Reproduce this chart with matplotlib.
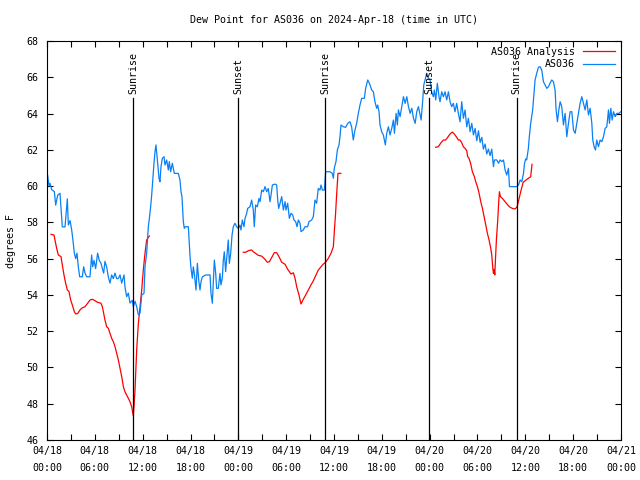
import numpy as np
import matplotlib
matplotlib.use("Agg")
import matplotlib.pyplot as plt

# Zeit in Stunden ab 04/18 00:00 UTC
station_h = [0.08, 0.25, 0.38, 0.59, 0.92, 1.09, 1.34, 1.63, 1.84, 1.92, 2.26, 2.47, 2.55, 2.68, 2.89,
             3.09, 3.26, 3.43, 3.6, 3.76, 3.93, 4.1, 4.43, 4.6, 4.77, 4.98, 5.39, 5.6, 5.73, 5.9,
             6.1, 6.35, 6.56, 6.77, 6.94, 7.11, 7.27, 7.48, 7.69, 7.9, 8.11, 8.32, 8.53, 8.74, 8.95,
             9.16, 9.37, 9.66, 9.78, 9.99, 10.2, 10.41, 10.7, 10.83, 11.04, 11.25, 11.46, 11.67, 11.88,
             12.17, 12.29, 12.5, 12.71, 12.84, 13.0, 13.13, 13.25, 13.42, 13.55, 13.67, 13.76, 13.88,
             14.05, 14.17, 14.3, 14.47, 14.68, 14.8, 15.01, 15.22, 15.34, 15.51, 15.72, 15.97, 16.47,
             16.68, 16.81, 16.93, 17.1, 17.22, 17.35, 17.73, 17.93, 18.06, 18.23, 18.35, 18.48, 18.69,
             18.86, 19.03, 19.19, 19.32, 19.49, 19.9, 20.45, 20.57, 20.74, 20.86, 20.99, 21.16, 21.28,
             21.49, 21.7, 21.82, 21.99, 22.12, 22.24, 22.41, 22.54, 22.74, 22.87, 23.04, 23.21, 23.37,
             23.58, 23.79, 24.0, 24.21, 24.33, 24.5, 24.71, 24.84, 25.05, 25.17, 25.46, 25.67, 25.88,
             26.0, 26.17, 26.38, 26.59, 26.72, 26.93, 27.14, 27.35, 27.56, 27.76, 27.97, 28.1, 28.27,
             28.6, 28.81, 28.94, 29.06, 29.23, 29.44, 29.65, 29.86, 29.98, 30.19, 30.4, 30.61, 30.82,
             30.98, 31.19, 31.36, 31.53, 31.74, 31.86, 32.15, 32.36, 32.69, 32.86, 33.2, 33.41, 33.61,
             33.82, 34.03, 34.24, 34.37, 34.54, 34.79, 34.95, 35.5, 35.79, 35.92, 36.04, 36.25, 36.42,
             36.63, 36.75, 36.88, 37.17, 37.46, 37.72, 38.0, 38.21, 38.42, 38.63, 38.84, 39.05, 39.26,
             39.47, 39.81, 39.97, 40.23, 40.44, 40.73, 40.94, 41.14, 41.35, 41.48, 41.65, 41.77, 41.98,
             42.19, 42.32, 42.44, 42.61, 42.82, 43.03, 43.24, 43.45, 43.58, 43.79, 43.95, 44.08, 44.29,
             44.5, 44.71, 44.92, 45.13, 45.34, 45.55, 45.76, 45.97, 46.18, 46.38, 46.59, 46.8, 46.93,
             47.1, 47.26, 47.42, 47.63, 47.84, 48.05, 48.25, 48.46, 48.59, 48.76, 48.96, 49.17, 49.3,
             49.51, 49.72, 49.93, 50.14, 50.35, 50.56, 50.76, 50.97, 51.18, 51.39, 51.6, 51.81, 52.02,
             52.23, 52.44, 52.65, 52.86, 53.07, 53.28, 53.49, 53.7, 53.91, 54.12, 54.33, 54.54, 54.74,
             54.95, 55.16, 55.37, 55.58, 55.79, 56.0, 56.12, 56.42, 56.63, 56.84, 57.05, 57.26, 57.46,
             57.67, 57.88, 58.01, 58.93, 59.14, 59.35, 59.56, 59.77, 59.9, 60.05, 60.17, 60.38, 60.5,
             60.67, 60.8, 60.92, 61.09, 61.22, 61.43, 61.64, 61.85, 62.06, 62.27, 62.48, 62.69, 62.9,
             63.1, 63.31, 63.52, 63.73, 63.86, 64.03, 64.2, 64.37, 64.57, 64.78, 64.99, 65.2, 65.41,
             65.62, 65.83, 66.04, 66.25, 66.46, 66.66, 66.87, 67.08, 67.29, 67.5, 67.71, 67.92, 68.13,
             68.34, 68.46, 68.63, 68.8, 68.96, 69.17, 69.38, 69.59, 69.8, 70.01, 70.22, 70.43, 70.55,
             70.72, 70.89, 71.06, 71.27, 71.48, 71.73, 71.98]
station_dp = [60.6, 60.0, 60.15, 59.8, 59.7, 58.95, 59.5, 59.6, 58.2, 57.75, 57.75, 58.85, 59.3, 57.85, 58.1,
              57.6, 57.0, 56.3, 56.0, 56.3, 55.55, 55.0, 55.0, 55.55, 55.2, 55.0, 55.0, 56.2, 55.55, 55.9,
              55.45, 56.3, 55.9, 55.75, 55.45, 55.2, 55.85, 55.55, 55.0, 54.65, 55.1, 54.9, 55.2, 54.9, 54.9,
              55.1, 54.65, 55.1, 54.45, 53.9, 54.1, 53.55, 53.7, 53.35, 53.65, 53.35, 52.9, 53.0, 54.0,
              54.09, 55.55, 56.29, 57.76, 58.22, 58.86, 59.5, 60.24, 61.26, 61.9, 62.27, 61.81, 61.26,
              60.43, 60.24, 61.07, 61.53, 61.62, 61.16, 61.44, 60.89, 61.35, 60.79, 61.26, 60.7, 60.7,
              60.34, 59.69, 59.42, 58.04, 57.67, 57.76, 57.76, 56.2, 55.47, 54.92, 55.55, 55.19, 54.27,
              55.74, 54.82, 54.27, 54.73, 55.0, 55.1, 55.1, 54.09, 53.54, 54.64, 55.92, 55.19, 54.36,
              54.36, 55.19, 54.55, 54.92, 55.92, 56.38, 55.28, 56.02, 57.03, 55.74, 56.29, 57.3, 57.76,
              57.95, 57.76, 57.67, 57.85, 57.58, 58.13, 57.76, 58.22, 58.5, 58.77, 58.86, 59.23, 58.68,
              57.76, 58.96, 58.86, 59.32, 59.14, 59.78, 59.69, 59.97, 59.69, 59.87, 59.14, 59.5, 60.06,
              60.11, 60.06, 59.23, 58.77, 59.05, 59.42, 58.68, 59.14, 58.68, 59.05, 58.22, 58.5, 58.41,
              58.13, 58.04, 57.76, 58.13, 57.95, 57.49, 57.58, 57.76, 57.76, 58.04, 58.13, 58.32, 59.23,
              59.05, 59.87, 59.78, 60.06, 59.78, 59.78, 60.79, 60.79, 60.7, 60.43, 61.0, 61.35, 61.99,
              62.27, 62.72, 63.37, 63.27, 63.24, 63.46, 63.55, 63.27, 62.54, 63.09, 63.46, 64.01, 64.47,
              64.84, 64.84, 65.39, 65.85, 65.67, 65.3, 65.2, 64.65, 64.29, 64.47, 64.1, 63.37, 63.0,
              62.82, 62.54, 62.27, 62.91, 63.27, 62.82, 63.18, 63.64, 62.91, 64.01, 63.37, 64.2, 63.83,
              64.38, 64.93, 64.56, 64.93, 64.38, 64.01, 64.29, 63.74, 63.46, 64.1, 64.38, 63.92, 63.64,
              64.56, 65.57, 65.85, 66.22, 65.94, 65.85, 65.2, 64.93, 65.3, 64.75, 65.67, 64.93, 64.65,
              65.2, 64.93, 65.2, 64.75, 65.2, 64.65, 64.38, 64.56, 64.1, 64.56, 64.01, 63.55, 64.65,
              63.74, 64.2, 63.27, 63.74, 63.0, 63.46, 62.82, 63.18, 62.5, 63.05, 62.41, 62.69, 62.04,
              62.32, 61.77, 62.04, 61.68, 62.04, 61.07, 61.44, 61.44, 61.26, 61.44, 61.35, 61.44, 60.89,
              60.61, 60.98, 59.97, 59.97, 60.06, 60.34, 60.24, 60.7, 61.26, 61.5, 61.44, 62.08, 62.72,
              63.46, 63.83, 64.2, 65.12, 65.85, 66.22, 66.55, 66.58, 66.4, 65.76, 65.57, 65.39, 65.48,
              65.67, 65.85, 65.76, 65.3, 64.2, 63.55, 64.2, 64.65, 64.38, 63.37, 64.01, 62.72, 63.46,
              64.1, 64.1, 63.09, 62.91, 63.46, 64.01, 64.56, 64.93, 64.56, 64.2, 64.75, 63.92, 64.29,
              63.46, 62.54, 62.17, 61.99, 62.54, 62.17, 62.54, 62.45, 62.72, 63.18, 63.27, 64.2, 63.46,
              64.29, 63.64, 64.1, 63.83, 64.01, 64.01, 64.1]

# Analyse: drei Abschnitte mit Luecken
analysis_h = [
    [0.5, 0.88, 1.0, 1.21, 1.42, 1.76, 1.92, 2.13, 2.34, 2.55, 2.76, 2.97, 3.18, 3.43, 3.6, 3.85,
     4.14, 4.43, 4.77, 5.1, 5.39, 5.69, 6.02, 6.35, 6.77, 6.94, 7.11, 7.27, 7.48, 7.69, 7.9, 8.11,
     8.32, 8.53, 8.74, 8.95, 9.16, 9.37, 9.58, 9.78, 9.99, 10.2, 10.41, 10.62, 10.83, 10.91, 11.04,
     11.25, 11.46, 11.67, 11.88, 12.08, 12.29, 12.5, 12.84],
    [24.63, 24.92, 25.26, 25.67, 25.88, 26.17, 26.51, 26.93, 27.35, 27.64, 27.89, 28.19, 28.52,
     28.81, 29.1, 29.44, 29.86, 30.19, 30.61, 30.9, 31.11, 31.32, 31.61, 31.86, 32.15, 32.44, 32.78,
     33.11, 33.41, 33.7, 34.03, 34.37, 34.66, 34.95, 35.29, 35.62, 35.92, 36.04, 36.2, 36.34, 36.5,
     36.85],
    [48.75, 49.08, 49.42, 49.72, 50.0, 50.26, 50.55, 50.84, 51.1, 51.39, 51.6, 51.81, 52.02, 52.23,
     52.44, 52.65, 52.77, 52.94, 53.15, 53.36, 53.61, 53.78, 53.99, 54.2, 54.41, 54.62, 54.83, 55.04,
     55.24, 55.45, 55.66, 55.79, 55.92, 56.0, 56.08, 56.17, 56.25, 56.37, 56.54, 56.66, 56.75, 56.87,
     57.12, 57.46, 57.79, 58.09, 58.38, 58.72, 58.97, 59.22, 59.47, 59.72, 59.98, 60.38, 60.67, 60.84],
]
analysis_dp = [
    [57.34, 57.3, 57.03, 56.57, 56.2, 56.11, 55.65, 55.1, 54.64, 54.27, 54.18, 53.72, 53.44, 53.07,
     52.95, 52.98, 53.17, 53.29, 53.35, 53.54, 53.72, 53.76, 53.68, 53.59, 53.54, 53.35, 52.98, 52.62,
     52.25, 52.16, 51.88, 51.61, 51.42, 51.15, 50.78, 50.41, 49.95, 49.49, 48.94, 48.66, 48.48, 48.3,
     48.11, 47.84, 47.32, 47.84, 48.76, 50.97, 52.43, 53.35, 54.27, 55.37, 56.29, 57.03, 57.25],
    [56.35, 56.35, 56.44, 56.48, 56.38, 56.29, 56.18, 56.14, 55.96, 55.8, 55.83, 56.07, 56.33, 56.33,
     56.11, 55.8, 55.69, 55.41, 55.15, 55.22, 54.92, 54.45, 53.99, 53.5, 53.76, 53.99, 54.27, 54.55,
     54.78, 55.06, 55.37, 55.55, 55.7, 55.8, 56.02, 56.29, 56.66, 57.5, 58.5, 59.6, 60.7, 60.7],
    [62.14, 62.17, 62.39, 62.54, 62.54, 62.69, 62.87, 62.98, 62.87, 62.69, 62.54, 62.54, 62.39, 62.17,
     62.08, 61.95, 61.62, 61.53, 61.22, 60.79, 60.52, 60.24, 59.97, 59.6, 59.14, 58.77, 58.31, 57.85,
     57.4, 57.03, 56.57, 56.2, 55.47, 55.19, 55.41, 55.1, 55.92, 57.03, 58.13, 59.14, 59.69, 59.42,
     59.32, 59.14, 58.96, 58.83, 58.77, 58.74, 58.86, 59.32, 59.78, 60.2, 60.3, 60.43, 60.52, 61.2],
]

sun_h = [10.85, 23.98, 34.9, 47.95, 58.9]
sun_labels = ["Sunrise", "Sunset", "Sunrise", "Sunset", "Sunrise"]

tick_h = list(range(0, 73, 6))
tick_labels = ["04/18\n00:00", "04/18\n06:00", "04/18\n12:00", "04/18\n18:00",
               "04/19\n00:00", "04/19\n06:00", "04/19\n12:00", "04/19\n18:00",
               "04/20\n00:00", "04/20\n06:00", "04/20\n12:00", "04/20\n18:00",
               "04/21\n00:00"]

plt.rcParams['font.family'] = ['DejaVu Sans Mono']
plt.rcParams['font.size'] = 7.2

fig = plt.figure(figsize=(6.4, 4.8), dpi=100)
ax = fig.add_axes([47 / 640, 40 / 480, 574 / 640, 399 / 480])

# Analyse rot, Station blau
for i, (hh, vv) in enumerate(zip(analysis_h, analysis_dp)):
    ax.plot(hh, vv, color='#ff0000', linewidth=0.9,
            label='AS036 Analysis' if i == 0 else None)
ax.plot(station_h, station_dp, color='#0a80f5', linewidth=0.9, label='AS036')

# Sonnenauf-/untergang
for h, lab in zip(sun_h, sun_labels):
    ax.plot([h, h], [46, 64.85], color='black', linewidth=0.9)
    ax.text(h, 65.1, lab, rotation=90, ha='center', va='bottom')

ax.set_xlim(0, 72)
ax.set_ylim(46, 68)
ax.set_xticks(tick_h)
ax.set_xticklabels(tick_labels, linespacing=1.9)
ax.set_xticks(np.arange(0, 73, 3), minor=True)
ax.set_yticks(np.arange(46, 69, 2))
ax.tick_params(which='both', direction='in', top=True, right=True, length=4, width=0.8, pad=4)
ax.tick_params(axis='y', pad=6)
for s in ax.spines.values():
    s.set_linewidth(0.8)

ax.set_ylabel('degrees F', labelpad=8)
ax.set_title('Dew Point for AS036 on 2024-Apr-18 (time in UTC)', fontsize=7.2, pad=13)

ax.legend(loc='upper right', frameon=False, markerfirst=False, handlelength=3.2,
          borderaxespad=0.2, labelspacing=0.25, handletextpad=0.8)

plt.savefig('out.png', dpi=100)
